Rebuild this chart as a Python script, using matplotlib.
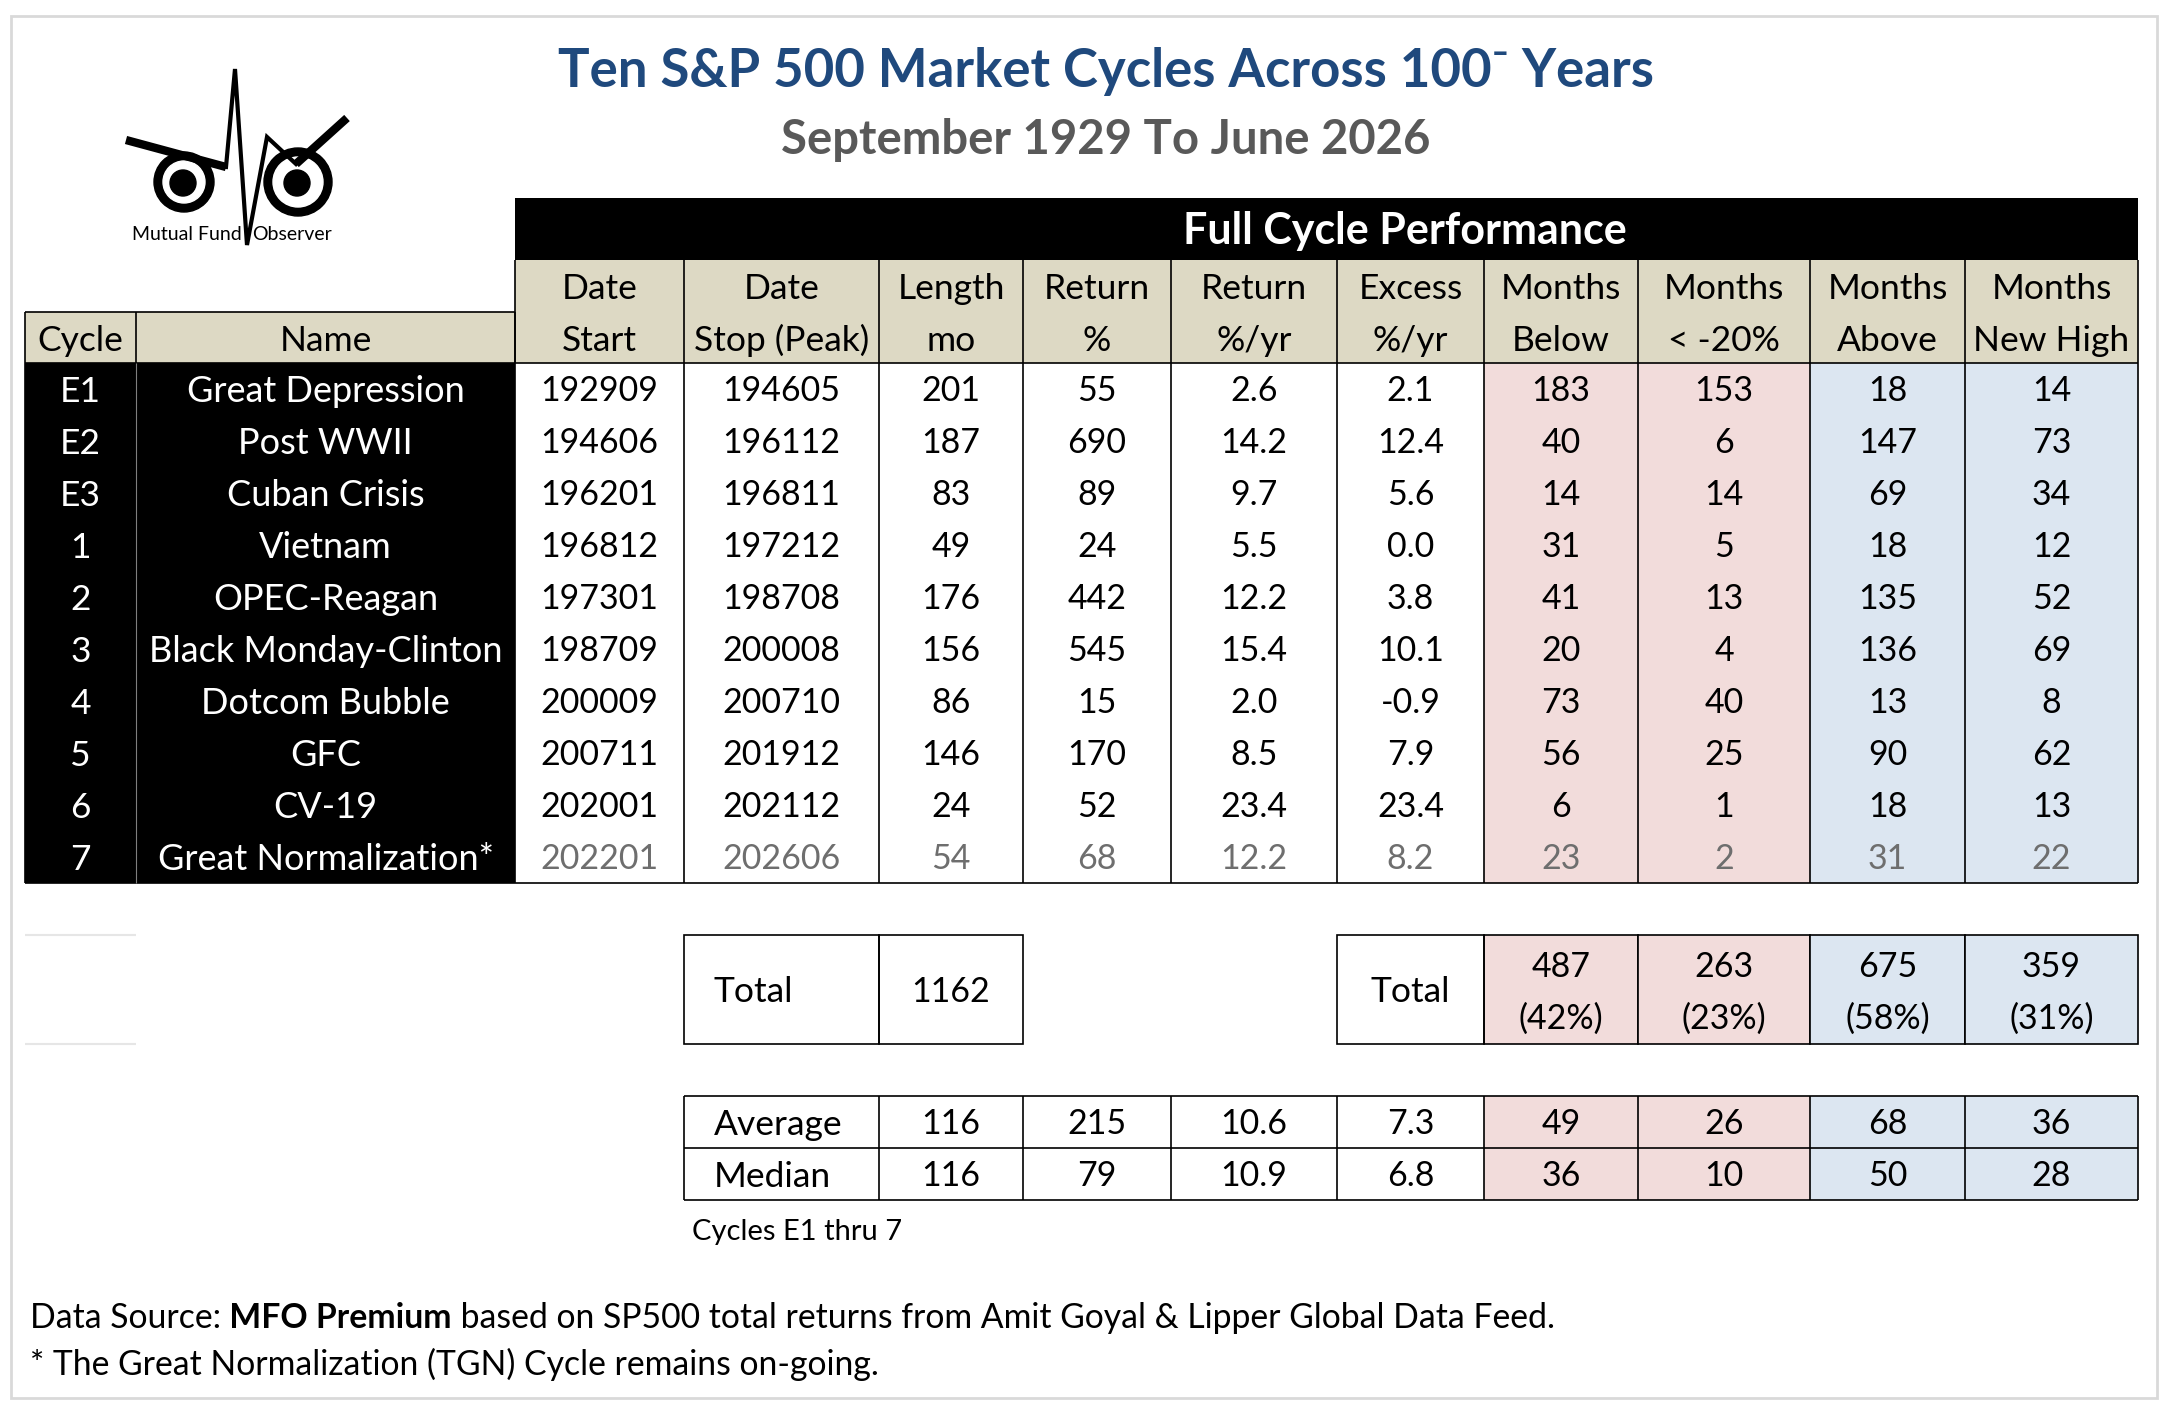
import matplotlib
matplotlib.use('Agg')
import matplotlib.pyplot as plt
from matplotlib.patches import Rectangle, Circle

plt.rcParams['font.family'] = ['Lato', 'DejaVu Sans']

cycles = ["E1", "E2", "E3", "1", "2", "3", "4", "5", "6", "7"]
names = ["Great Depression", "Post WWII", "Cuban Crisis", "Vietnam", "OPEC-Reagan",
         "Black Monday-Clinton", "Dotcom Bubble", "GFC", "CV-19", "Great Normalization*"]
date_start = ["192909", "194606", "196201", "196812", "197301",
              "198709", "200009", "200711", "202001", "202201"]
date_stop = ["194605", "196112", "196811", "197212", "198708",
             "200008", "200710", "201912", "202112", "202606"]
length_mo = [201, 187, 83, 49, 176, 156, 86, 146, 24, 54]
return_pct = [55, 690, 89, 24, 442, 545, 15, 170, 52, 68]
return_yr = [2.6, 14.2, 9.7, 5.5, 12.2, 15.4, 2.0, 8.5, 23.4, 12.2]
excess_yr = [2.1, 12.4, 5.6, 0.0, 3.8, 10.1, -0.9, 7.9, 23.4, 8.2]
months_below = [183, 40, 14, 31, 41, 20, 73, 56, 6, 23]
months_below20 = [153, 6, 14, 5, 13, 4, 40, 25, 1, 2]
months_above = [18, 147, 69, 18, 135, 136, 13, 90, 18, 31]
months_new_high = [14, 73, 34, 12, 52, 69, 8, 62, 13, 22]

headers = [("Date", "Start"), ("Date", "Stop (Peak)"), ("Length", "mo"), ("Return", "%"),
           ("Return", "%/yr"), ("Excess", "%/yr"), ("Months", "Below"), ("Months", "< -20%"),
           ("Months", "Above"), ("Months", "New High")]

total_length = 1162
total_months = [487, 263, 675, 359]
total_share = [42, 23, 58, 31]
average_row = ["116", "215", "10.6", "7.3", "49", "26", "68", "36"]
median_row = ["116", "79", "10.9", "6.8", "36", "10", "50", "28"]

# ---- styles ----
W, H = 2167, 1407
TAN = '#DDD9C4'
PINK = '#F2DCDB'
BLUE = '#DCE6F1'
NAVY = '#1F497D'
GREY_TXT = '#595959'
LAST_ROW = '#6E6E6E'
NUM = 24.5      # numbers
LBL = 25.5      # header / label words

fig = plt.figure(figsize=(W / 100, H / 100), dpi=100)
ax = fig.add_axes([0, 0, 1, 1])
ax.set_xlim(0, W)
ax.set_ylim(H, 0)
ax.axis('off')


def cap(size):
    return size * 100 / 72 * 0.7165


def cell_text(x, yc, s, size=NUM, color='black', weight='normal', ha='center'):
    ax.text(x, yc + cap(size) / 2, s, fontsize=size, color=color, fontweight=weight,
            ha=ha, va='baseline')


def box(x0, y0, x1, y1, fc='none', ec='none', lw=1.2, z=1):
    ax.add_patch(Rectangle((x0, y0), x1 - x0, y1 - y0, facecolor=fc, edgecolor=ec,
                           linewidth=lw, zorder=z))


def hline(y, x0, x1, c='black', lw=1.2):
    ax.plot([x0, x1], [y, y], color=c, lw=lw, zorder=3, solid_capstyle='butt')


def vline(x, y0, y1, c='black', lw=1.2):
    ax.plot([x, x], [y0, y1], color=c, lw=lw, zorder=3, solid_capstyle='butt')


# outer frame
box(11, 16, 2157, 1398, ec='#D9D9D9', lw=2)

# ---- logo ----
for cx, r_out, r_pup in [(184, 30, 13), (298, 34, 13)]:
    ax.add_patch(Circle((cx, 182), r_out, color='black', zorder=4))
    ax.add_patch(Circle((cx, 182), r_out - 9, color='white', zorder=4))
    ax.add_patch(Circle((cx - 1, 183), r_pup, color='black', zorder=4))
ax.plot([126, 226], [140, 167], color='black', lw=6, zorder=5, solid_capstyle='butt')
ax.plot([226, 235, 247, 267, 296], [167, 69, 245, 137, 164], color='black', lw=3,
        zorder=5, solid_joinstyle='miter')
ax.plot([296, 347], [164, 118], color='black', lw=6, zorder=5, solid_capstyle='butt')
ax.text(242, 240, "Mutual Fund", fontsize=14, ha='right', va='baseline', zorder=5)
ax.text(252, 240, "Observer", fontsize=14, ha='left', va='baseline', zorder=5)

# ---- titles ----
ax.text(1106, 87, "Ten S&P 500 Market Cycles Across 100\u207B Years", fontsize=38,
        fontweight='bold', color=NAVY, ha='center', va='baseline')
ax.text(1106, 154, "September 1929 To June 2026", fontsize=34, fontweight='bold',
        color=GREY_TXT, ha='center', va='baseline')

# ---- table geometry ----
xs = [25, 136, 515, 684, 879, 1023, 1171, 1337, 1484, 1638, 1810, 1965, 2138]
y_band, y_sub, y_cyc, y_data = 198, 260, 312, 363
row_h = 52
y_end = y_data + row_h * len(cycles)

box(xs[2], y_band, xs[-1], y_sub, fc='black', z=1)
cell_text(1405, (y_band + y_sub) / 2, "Full Cycle Performance",
          size=31, color='white', weight='bold')

box(xs[2], y_sub, xs[-1], y_data, fc=TAN, z=1)
box(xs[0], y_cyc, xs[2], y_data, fc=TAN, z=1)
box(xs[0], y_data, xs[2], y_end, fc='black', z=1)

col_fill = ['white'] * 6 + [PINK, PINK, BLUE, BLUE]
for j, fc in enumerate(col_fill):
    box(xs[j + 2], y_data, xs[j + 3], y_end, fc=fc, z=1)

# header labels
cell_text((xs[0] + xs[1]) / 2, 338, "Cycle", size=LBL)
cell_text((xs[1] + xs[2]) / 2, 338, "Name", size=LBL)
for j, (l1, l2) in enumerate(headers):
    xc = (xs[j + 2] + xs[j + 3]) / 2
    cell_text(xc, 286, l1, size=LBL)
    cell_text(xc, 338, l2, size=LBL)

# table lines
hline(y_cyc, xs[0], xs[2])
hline(y_data, xs[0], xs[-1])
hline(y_end, xs[0], xs[-1])
for x in xs[:3]:
    vline(x, y_cyc, y_data)
vline(xs[0], y_data, y_end)
vline(xs[1], y_data, y_end, c='#7F7F7F', lw=0.8)
for x in xs[2:]:
    vline(x, y_sub, y_end)

# data rows
columns = [date_start, date_stop, length_mo, return_pct,
           [f"{v:.1f}" for v in return_yr], [f"{v:.1f}" for v in excess_yr],
           months_below, months_below20, months_above, months_new_high]
for i in range(len(cycles)):
    yc = y_data + row_h * (i + 0.5)
    txt_c = LAST_ROW if i == len(cycles) - 1 else 'black'
    cell_text((xs[0] + xs[1]) / 2, yc, cycles[i], size=LBL, color='white')
    cell_text((xs[1] + xs[2]) / 2, yc, names[i], size=26, color='white')
    for j, col in enumerate(columns):
        cell_text((xs[j + 2] + xs[j + 3]) / 2, yc, str(col[i]), color=txt_c)

# ---- totals ----
t0, t1 = 935, 1044
tc = (t0 + t1) / 2
hline(t0, xs[0], xs[1], c='#E6E6E6', lw=1.5)
hline(t1, xs[0], xs[1], c='#E6E6E6', lw=1.5)
box(xs[3], t0, xs[4], t1, ec='black', z=3)
box(xs[4], t0, xs[5], t1, ec='black', z=3)
ax.text(xs[3] + 30, tc + cap(LBL) / 2, "Total", fontsize=LBL, ha='left', va='baseline')
cell_text((xs[4] + xs[5]) / 2, tc, str(total_length))

box(xs[7], t0, xs[8], t1, ec='black', z=3)
cell_text((xs[7] + xs[8]) / 2, tc, "Total", size=LBL)
for j in range(4):
    x0, x1 = xs[8 + j], xs[9 + j]
    box(x0, t0, x1, t1, fc=col_fill[6 + j], ec='black', z=2)
    cell_text((x0 + x1) / 2, 965, str(total_months[j]))
    cell_text((x0 + x1) / 2, 1017, f"({total_share[j]}%)")

# ---- average / median ----
a0, a1, a2 = 1096, 1148, 1200
for j in range(8):
    x0, x1 = xs[4 + j], xs[5 + j]
    box(x0, a0, x1, a2, fc=col_fill[2 + j], z=1)
    cell_text((x0 + x1) / 2, (a0 + a1) / 2, average_row[j])
    cell_text((x0 + x1) / 2, (a1 + a2) / 2, median_row[j])
ax.text(xs[3] + 30, (a0 + a1) / 2 + cap(LBL) / 2, "Average", fontsize=LBL, ha='left', va='baseline')
ax.text(xs[3] + 30, (a1 + a2) / 2 + cap(LBL) / 2, "Median", fontsize=LBL, ha='left', va='baseline')
for y in (a0, a1, a2):
    hline(y, xs[3], xs[-1])
for x in xs[3:]:
    vline(x, a0, a2)

ax.text(692, 1240, "Cycles E1 thru 7", fontsize=21, ha='left', va='baseline')

# ---- footer ----
FT = 24.3
t = ax.text(30, 1328, "Data Source:", fontsize=FT, ha='left', va='baseline')
t = ax.annotate(" MFO Premium", xycoords=t, xy=(1, 0), fontsize=FT, fontweight='bold',
                ha='left', va='bottom')
ax.annotate(" based on SP500 total returns from Amit Goyal & Lipper Global Data Feed.",
            xycoords=t, xy=(1, 0), fontsize=FT, ha='left', va='bottom')
ax.text(30, 1375, "* The Great Normalization (TGN) Cycle remains on-going.", fontsize=FT,
        ha='left', va='baseline')

fig.savefig("out.png", dpi=100)
plt.close(fig)
